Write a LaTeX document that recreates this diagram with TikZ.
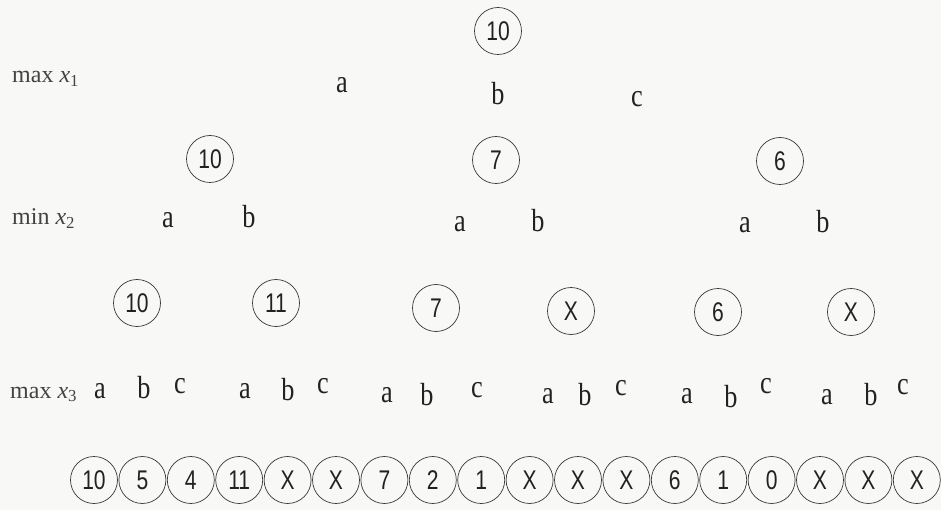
\documentclass[tikz,border=0pt]{standalone}
\usepackage{fontspec}
\setmainfont{Liberation Serif}
\newfontfamily\digitfont[FakeStretch=0.78]{Liberation Sans}
\newfontfamily\letterfont[FakeStretch=0.82]{Liberation Serif}
\definecolor{ink}{HTML}{222222}
\definecolor{paper}{HTML}{F8F8F6}
\begin{document}
\begin{tikzpicture}[x=1pt,y=-1pt,
  val/.style={circle,draw=ink!90,line width=0.7pt,minimum size=47pt,inner sep=0pt,text=ink,font=\digitfont\fontsize{27}{27}\selectfont},
  lett/.style={anchor=base,inner sep=0pt,text=ink,font=\letterfont\fontsize{32}{32}\selectfont},
  lvl/.style={anchor=base west,inner sep=0pt,text=ink!85,font=\fontsize{24}{24}\selectfont}]
\fill[paper] (0,0) rectangle (941,510);
\useasboundingbox (0,0) rectangle (941,510);

% level labels
\node[lvl] (L1) at (12,83) {max {\itshape x}\textsubscript{1}};
\node[lvl] (L2) at (12,225) {min {\itshape x}\textsubscript{2}};
\node[lvl] (L3) at (10,398) {max {\itshape x}\textsubscript{3}};

% root
\node[val] (r) at (498,31) {10};
\node[lett] (ra) at (342,93) {a};
\node[lett] (rb) at (498,105) {b};
\node[lett] (rc) at (637,107) {c};

% level 2
\node[val] (n1) at (210,159) {10};
\node[val] (n2) at (496,160) {7};
\node[val] (n3) at (780,161) {6};
\node[lett] (n1a) at (168,228) {a};
\node[lett] (n1b) at (249,228) {b};
\node[lett] (n2a) at (460,232) {a};
\node[lett] (n2b) at (538,232) {b};
\node[lett] (n3a) at (745,233) {a};
\node[lett] (n3b) at (823,233) {b};

% level 3
\node[val] (m1) at (137,303) {10};
\node[val] (m2) at (276,303) {11};
\node[val] (m3) at (436,308) {7};
\node[val] (m4) at (571,311) {X};
\node[val] (m5) at (718,312) {6};
\node[val] (m6) at (851,312) {X};

\foreach \g/\xa/\ya/\xb/\yb/\xc/\yc in {1/100/398/144/398/180/393, 2/245/398/288/400/323/393,
    3/387/402/427/405/477/397, 4/548/403/585/405/621/395,
    5/687/403/731/407/766/393, 6/827/404/871/405/903/394}{
  \node[lett] (m\g a) at (\xa,\ya) {a};
  \node[lett] (m\g b) at (\xb,\yb) {b};
  \node[lett] (m\g c) at (\xc,\yc) {c};
}

% leaves
\foreach \v [count=\i from 0] in {10,5,4,11,X,X,7,2,1,X,X,X,6,1,0,X,X,X}{
  \node[val] (leaf\i) at ({94+48.4*\i},480) {\v};
}
\end{tikzpicture}
\end{document}
